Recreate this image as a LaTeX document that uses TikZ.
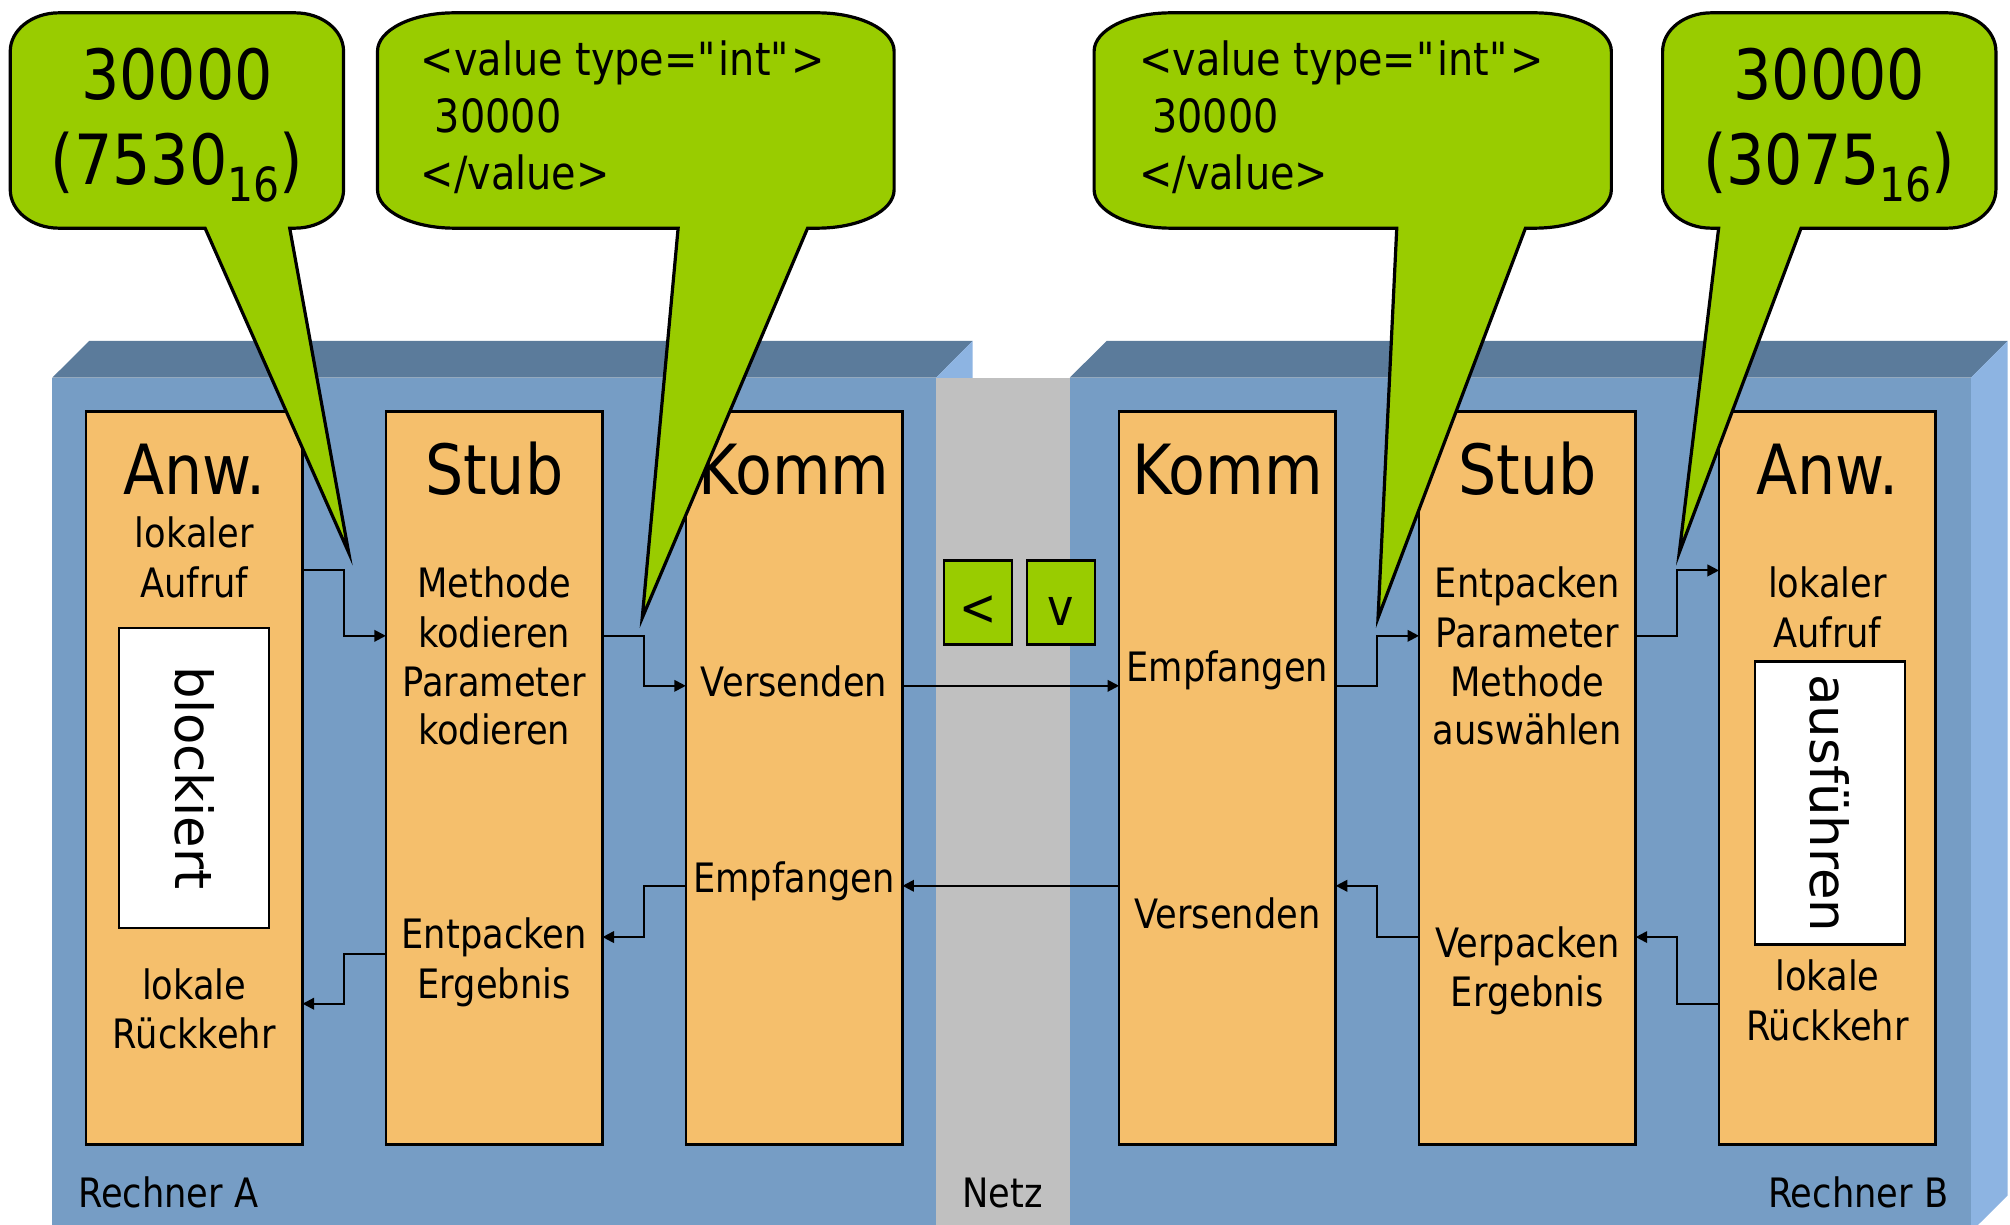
\documentclass[tikz,border=0pt]{standalone}
\usepackage{fontspec}
\setmainfont{DejaVu Sans}[FakeStretch=0.87]
\newfontfamily\vertfont{DejaVu Sans}
\usetikzlibrary{arrows.meta}
\definecolor{frontblue}{RGB}{118,157,197}
\definecolor{topblue}{RGB}{91,123,155}
\definecolor{sideblue}{RGB}{141,180,226}
\definecolor{netzgray}{RGB}{192,192,192}
\definecolor{colorange}{RGB}{245,191,108}
\definecolor{callgreen}{RGB}{153,204,0}
\tikzset{
 col/.style={draw=black, line width=2pt, fill=colorange, minimum width=169pt, minimum height=572pt, inner sep=0pt, outer sep=0pt},
 wbox/.style={draw=black, line width=2pt, fill=white, inner sep=0pt, outer sep=0pt, font=\vertfont\fontsize{40}{48}\selectfont},
 ttl/.style={anchor=base, inner sep=0pt, font=\fontsize{54}{64}\selectfont},
 txt/.style={anchor=base, inner sep=0pt, font=\fontsize{31.6}{38}\selectfont},
 xml/.style={anchor=base west, inner sep=0pt, font=\fontsize{35.7}{43}\selectfont},
 big/.style={anchor=base, inner sep=0pt, font=\fontsize{54}{64}\selectfont},
 conn/.style={draw=black, line width=1.6pt, -{Triangle[length=9pt,width=9pt]}},
 gbox/.style={draw=black, line width=2pt, fill=callgreen, minimum width=53pt, minimum height=65.6pt, inner sep=0pt},
 gtxt/.style={anchor=base, inner sep=0pt, font=\fontsize{40}{48}\selectfont},
 bubble/.style={draw=black, line width=2.5pt, fill=callgreen},
}
% L R rx a1 a2 tipx tipy
\newcommand\callbubble[7]{%
\path[bubble] ({#1+#3},10) -- ({#2-#3},10) .. controls ({#2-0.4477*#3},10) and (#2,23.4) .. (#2,40) -- (#2,148) .. controls (#2,164.6) and ({#2-0.4477*#3},178) .. ({#2-#3},178) -- (#5,178) -- (#6,#7) -- (#4,178) -- ({#1+#3},178) .. controls ({#1+0.4477*#3},178) and (#1,164.6) .. (#1,148) -- (#1,40) .. controls (#1,23.4) and ({#1+0.4477*#3},10) .. ({#1+#3},10) -- cycle;}
\begin{document}
\begin{tikzpicture}[x=1pt,y=-1pt]
\useasboundingbox (0,0) rectangle (1568,955);
\clip (0,0) rectangle (1568,955);
% computer boxes
\fill[frontblue] (40.8,294.6) rectangle (730.3,961);
\fill[topblue] (40.8,294.6) -- (69.6,266) -- (758.7,266) -- (730.3,294.6) -- cycle;
\fill[sideblue] (730.3,294.6) -- (758.7,266) -- (758.7,933) -- (730.3,961) -- cycle;
\fill[frontblue] (834.5,294.6) rectangle (1537.6,961);
\fill[topblue] (834.5,294.6) -- (863.3,266) -- (1566.2,266) -- (1537.6,294.6) -- cycle;
\fill[sideblue] (1537.6,294.6) -- (1566.2,266) -- (1566.2,932.5) -- (1537.6,961) -- cycle;
\fill[netzgray] (730.3,294.6) rectangle (834.5,961);
% columns
\node[col] (A1) at (151.5,607) {};
\node[col] (A2) at (385.5,607) {};
\node[col] (A3) at (619.5,607) {};
\node[col] (B1) at (957.5,607) {};
\node[col] (B2) at (1191.5,607) {};
\node[col] (B3) at (1425.5,607) {};
% white boxes
\node[wbox, rotate=-90, minimum width=234pt, minimum height=117pt] (blk) at (151.5,607) {blockiert};
\node[wbox, rotate=-90, minimum width=220.7pt, minimum height=117pt] (ausf) at (1427.4,626.6) {ausführen};
% titles
\node[ttl] (a1h) at (151.5,386) {Anw.};
\node[ttl] (a2h) at (385.5,386) {Stub};
\node[ttl] (a3h) at (619.5,386) {Komm};
\node[ttl] (b1h) at (957.5,386) {Komm};
\node[ttl] (b2h) at (1191.5,386) {Stub};
\node[ttl] (b3h) at (1425.5,386) {Anw.};
% column texts
\foreach \t/\yy [count=\i] in {lokaler/427, Aufruf/466, lokale/780, Rückkehr/818}
  \node[txt] (a1t\i) at (151.5,\yy) {\t};
\foreach \t/\yy [count=\i] in {Methode/466, kodieren/505, Parameter/543, kodieren/581, Entpacken/740, Ergebnis/779}
  \node[txt] (a2t\i) at (385.5,\yy) {\t};
\foreach \t/\yy [count=\i] in {Versenden/543, Empfangen/696}
  \node[txt] (a3t\i) at (619.5,\yy) {\t};
\foreach \t/\yy [count=\i] in {Empfangen/532, Versenden/724}
  \node[txt] (b1t\i) at (957.5,\yy) {\t};
\foreach \t/\yy [count=\i] in {Entpacken/466, Parameter/505, Methode/543, auswählen/581, Verpacken/747, Ergebnis/785}
  \node[txt] (b2t\i) at (1191.5,\yy) {\t};
\foreach \t/\yy [count=\i] in {lokaler/466, Aufruf/505, lokale/773, Rückkehr/812}
  \node[txt] (b3t\i) at (1425.5,\yy) {\t};
% labels
\node[txt, anchor=base west] (ra) at (60.7,941.6) {Rechner A};
\node[txt] (netz) at (782,941.6) {Netz};
\node[txt, anchor=base east] (rb) at (1520,941.6) {Rechner B};
% connectors
\draw[conn] (A1.east |- 0,445) -- ++(32.5,0) |- (A2.west |- 0,496);
\draw[conn] (A2.east |- 0,496) -- ++(32.5,0) |- (A3.west |- 0,535);
\draw[conn] (A3.east |- 0,535) -- (B1.west |- 0,535);
\draw[conn] (B1.west |- 0,691) -- (A3.east |- 0,691);
\draw[conn] (A3.west |- 0,691) -- ++(-32.5,0) |- (A2.east |- 0,731);
\draw[conn] (A2.west |- 0,744) -- ++(-32.5,0) |- (A1.east |- 0,783);
\draw[conn] (B1.east |- 0,535) -- ++(32.5,0) |- (B2.west |- 0,496);
\draw[conn] (B2.east |- 0,496) -- ++(32.5,0) |- (B3.west |- 0,445);
\draw[conn] (B3.west |- 0,783) -- ++(-32.5,0) |- (B2.east |- 0,731);
\draw[conn] (B2.west |- 0,731) -- ++(-32.5,0) |- (B1.east |- 0,691);
% small green boxes
\node[gbox] (lt) at (762.8,470) {};
\node[gtxt] (ltt) at (762.8,488) {<};
\node[gbox] (vb) at (827.7,470) {};
\node[gtxt] (vbt) at (827.7,488) {v};
% callouts
\callbubble{8}{268}{38}{160}{226}{272}{431}
\callbubble{294.5}{697.5}{60}{529}{630}{501}{482}
\callbubble{853.5}{1257}{60}{1089.6}{1190}{1075}{482}
\callbubble{1297}{1557}{38}{1340.7}{1405}{1310}{431}
\node[big] (c1a) at (138,77.7) {30000};
\node[big] (c1b) at (138,144) {(7530\raisebox{-13pt}{\fontsize{36.7}{40}\selectfont 16})};
\node[big] (c4a) at (1427,77.7) {30000};
\node[big] (c4b) at (1427,144) {(3075\raisebox{-13pt}{\fontsize{36.7}{40}\selectfont 16})};
\node[xml] (c2a) at (328,58.7) {<value type=\textquotedbl int\textquotedbl>};
\node[xml] (c2b) at (339,103.3) {30000};
\node[xml] (c2c) at (328,148) {</value>};
\node[xml] (c3a) at (888.5,58.7) {<value type=\textquotedbl int\textquotedbl>};
\node[xml] (c3b) at (898.6,103.3) {30000};
\node[xml] (c3c) at (888.5,148) {</value>};
\end{tikzpicture}
\end{document}
